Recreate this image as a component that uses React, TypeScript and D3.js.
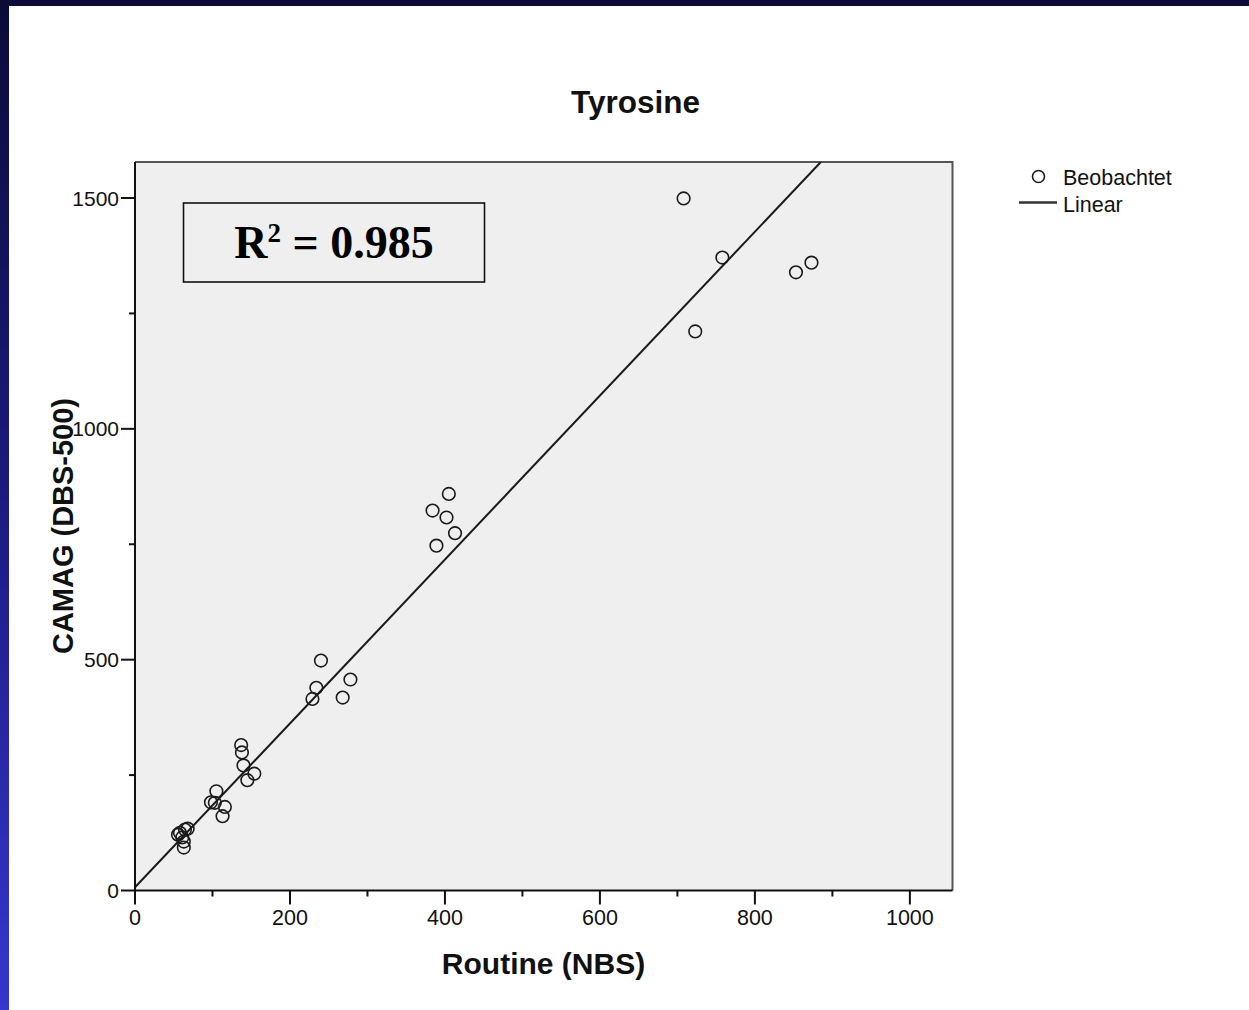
import React from "react";
import * as d3 from "d3";

const W = 1249;
const H = 1010;

// Observed values (Routine NBS, CAMAG DBS-500)
const routineNBS = [
  708, 758, 853, 873, 723,
  405, 384, 402, 413, 389,
  240, 234, 229, 278, 268,
  137, 138, 140, 145, 154,
  105, 98, 103, 116, 113,
  58, 64.5, 68, 61, 63, 55.5, 63,
];
const camagDBS = [
  1499, 1371, 1339, 1360, 1211,
  859, 823, 808, 774, 747,
  498, 439, 415, 457, 418,
  315, 299, 271, 239, 253,
  215, 191, 190, 181, 161,
  125, 132, 134, 115, 93, 121, 106,
];

const xTickMajor = [0, 200, 400, 600, 800, 1000];
const xTickMinor = [100, 300, 500, 700, 900];
const yTickMajor = [0, 500, 1000, 1500];
const yTickMinor = [250, 750, 1250];

const fitSlope = 1.775;
const fitIntercept = 7;
const r2Text = "0.985";

const chartTitle = "Tyrosine";
const xLabel = "Routine (NBS)";
const yLabel = "CAMAG (DBS-500)";
const legendItems = ["Beobachtet", "Linear"];

export default function App() {
  const left = 135, right = 952.5, top = 162, bottom = 890.5;
  const x = d3.scaleLinear().domain([0, 1055]).range([left, right]);
  const y = d3.scaleLinear().domain([0, 1578]).range([bottom, top]);

  const fitX0 = 0;
  const fitX1 = (y.domain()[1] - fitIntercept) / fitSlope;
  const fitLine = d3.line<[number, number]>()
    .x((d) => x(d[0]))
    .y((d) => y(d[1]))([
      [fitX0, fitIntercept + fitSlope * fitX0],
      [fitX1, fitIntercept + fitSlope * fitX1],
    ]);

  const points = routineNBS.map((v, i) => [v, camagDBS[i]] as [number, number]);
  const sans = "'Liberation Sans', Arial, sans-serif";
  const serif = "'Liberation Serif', 'Times New Roman', serif";
  const ink = "#111";

  return (
    <svg
      width={W}
      height={H}
      style={{ position: "absolute", left: 0, top: 0, display: "block" }}
    >
      <defs>
        <linearGradient id="bg" x1="0" y1="0" x2="0" y2="1">
          <stop offset="0" stopColor="#0b0b38" />
          <stop offset="0.5" stopColor="#1b1b80" />
          <stop offset="1" stopColor="#3636d0" />
        </linearGradient>
        <clipPath id="plotClip">
          <rect x={left} y={top} width={right - left} height={bottom - top} />
        </clipPath>
      </defs>
      <rect x={0} y={0} width={W} height={H} fill="url(#bg)" />
      <rect x={9} y={6} width={W - 9} height={H - 6} fill="#ffffff" />

      {/* title */}
      <text x={635.5} y={113} textAnchor="middle" fontFamily={sans} fontWeight="bold" fontSize={31.5} fill={ink}>
        {chartTitle}
      </text>

      {/* plot background */}
      <rect x={left} y={top} width={right - left} height={bottom - top} fill="#efefef" />
      {/* frame top/right */}
      <path d={`M${left},${top}H${right}V${bottom}`} fill="none" stroke="#555" strokeWidth={2} />

      {/* fit line */}
      <g clipPath="url(#plotClip)">
        <path d={fitLine || ""} fill="none" stroke="#1a1a1a" strokeWidth={2} />
      </g>

      {/* points */}
      <g>
        {points.map((p, i) => (
          <circle key={i} cx={x(p[0])} cy={y(p[1])} r={6.3} fill="none" stroke="#1a1a1a" strokeWidth={1.6} />
        ))}
      </g>

      {/* axes */}
      <line x1={left} x2={left} y1={top} y2={bottom} stroke="#111" strokeWidth={2} />
      <line x1={left} x2={right} y1={bottom} y2={bottom} stroke="#111" strokeWidth={2} />
      {xTickMajor.map((t) => (
        <g key={"xt" + t}>
          <line x1={x(t)} x2={x(t)} y1={bottom} y2={bottom + 14} stroke="#111" strokeWidth={2} />
          <text x={x(t)} y={925} textAnchor="middle" fontFamily={sans} fontSize={21.5} fill={ink}>
            {t}
          </text>
        </g>
      ))}
      {xTickMinor.map((t) => (
        <line key={"xm" + t} x1={x(t)} x2={x(t)} y1={bottom} y2={bottom + 6} stroke="#111" strokeWidth={2} />
      ))}
      {yTickMajor.map((t) => (
        <g key={"yt" + t}>
          <line x1={left - 14} x2={left} y1={y(t)} y2={y(t)} stroke="#111" strokeWidth={2} />
          <text x={119} y={y(t)} dy="0.36em" textAnchor="end" fontFamily={sans} fontSize={21} fill={ink}>
            {t}
          </text>
        </g>
      ))}
      {yTickMinor.map((t) => (
        <line key={"ym" + t} x1={left - 6} x2={left} y1={y(t)} y2={y(t)} stroke="#111" strokeWidth={2} />
      ))}

      {/* axis labels */}
      <text x={543.5} y={974} textAnchor="middle" fontFamily={sans} fontWeight="bold" fontSize={30} fill={ink}>
        {xLabel}
      </text>
      <text
        transform={`translate(73,526) rotate(-90)`}
        textAnchor="middle"
        fontFamily={sans}
        fontWeight="bold"
        fontSize={29}
        textLength={256}
        lengthAdjust="spacingAndGlyphs"
        fill={ink}
      >
        {yLabel}
      </text>

      {/* R² box */}
      <rect x={183.5} y={203} width={301} height={79} fill="none" stroke="#111" strokeWidth={1.6} />
      <text x={334} y={258} textAnchor="middle" fontFamily={serif} fontWeight="bold" fontSize={46} fill="#000">
        R<tspan fontSize={27} dy={-16}>2</tspan>
        <tspan dy={16}> = {r2Text}</tspan>
      </text>

      {/* legend */}
      <circle cx={1038.5} cy={176.5} r={6} fill="none" stroke="#1a1a1a" strokeWidth={1.6} />
      <text x={1063} y={185} fontFamily={sans} fontSize={21.5} fill={ink}>
        {legendItems[0]}
      </text>
      <line x1={1019} x2={1057} y1={202.5} y2={202.5} stroke="#333" strokeWidth={2.5} />
      <text x={1063} y={211.5} fontFamily={sans} fontSize={21.5} fill={ink}>
        {legendItems[1]}
      </text>
    </svg>
  );
}
